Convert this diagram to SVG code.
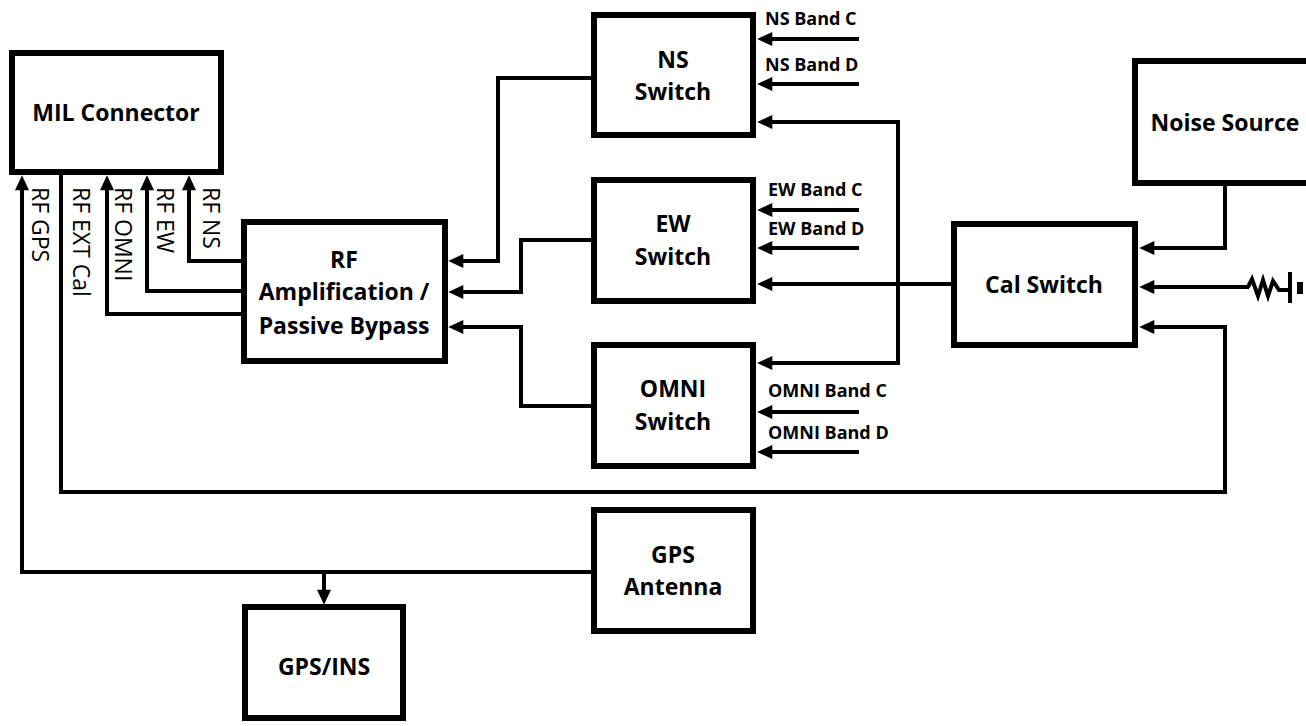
<svg xmlns="http://www.w3.org/2000/svg" width="1306" height="726" viewBox="0 0 1306 726">
<style>
.box{fill:#fff;stroke:#000;stroke-width:6}
.t{font-family:"Open Sans","Noto Sans",sans-serif;font-weight:bold;font-size:23px;text-anchor:middle;fill:#000}
.lbl{font-family:"Open Sans","Noto Sans",sans-serif;font-weight:bold;font-size:18px;fill:#000}
.vl{font-family:"Open Sans","Noto Sans",sans-serif;font-size:23px;fill:#000}
.c{fill:none;stroke:#000;stroke-width:4}
.a{marker-end:url(#arr)}
</style>
<defs>
<marker id="arr" markerUnits="userSpaceOnUse" markerWidth="16" markerHeight="14" viewBox="0 0 14 13" refX="4" refY="6.5" orient="auto-start-reverse">
<path d="M0,0 L14,6.5 L0,13 z" fill="#000"/>
</marker>
</defs>
<rect width="1306" height="726" fill="#fff"/>
<g id="connectors">
<path class="c a" d="M241,261 H189 V186"/>
<path class="c a" d="M241,291 H147 V186"/>
<path class="c a" d="M241,314 H107 V186"/>
<path class="c a" d="M61,175 V492 H1225 V327 H1150"/>
<path class="c a" d="M591,572 H22 V186"/>
<path class="c a" d="M324,572 V594"/>
<path class="c a" d="M591,78 H498 V261 H459"/>
<path class="c a" d="M591,240 H521 V292 H459"/>
<path class="c a" d="M591,406 H521 V327 H459"/>
<path class="c a" d="M859,39 H768"/>
<path class="c a" d="M859,84 H768"/>
<path class="c a" d="M859,210 H768"/>
<path class="c a" d="M859,248 H768"/>
<path class="c a" d="M859,412 H768"/>
<path class="c a" d="M859,452 H768"/>
<path class="c" d="M768,122 H898 V363 H768" marker-start="url(#arr)" marker-end="url(#arr)"/>
<path class="c a" d="M953,284 H768"/>
<path class="c a" d="M1225,186 V248 H1150"/>
<path class="c a" d="M1249,287 H1150"/>
<polyline class="c" stroke-width="4" stroke-linejoin="miter" points="1248,287 1252,279 1258,296 1263,280 1268,296 1273,281 1279,290 1289,290"/>
<line x1="1290" y1="272" x2="1290" y2="303" stroke="#000" stroke-width="4"/>
<rect x="1297" y="282" width="6" height="12" fill="#000"/>
</g>
<g id="mil">
<rect class="box" x="12" y="53" width="209" height="119"/>
<text class="t" x="116" y="121">MIL Connector</text>
</g>
<g id="labels-vertical">
<text class="vl" transform="translate(32,187) rotate(90)">RF GPS</text>
<text class="vl" transform="translate(73,187) rotate(90)">RF EXT Cal</text>
<text class="vl" transform="translate(115,187) rotate(90)">RF OMNI</text>
<text class="vl" transform="translate(157,187) rotate(90)">RF EW</text>
<text class="vl" transform="translate(203,187) rotate(90)">RF NS</text>
</g>
<g id="rfamp">
<rect class="box" x="244" y="222" width="201" height="139"/>
<text class="t" x="344" y="268">RF</text>
<text class="t" x="344" y="300">Amplification /</text>
<text class="t" x="344" y="334">Passive Bypass</text>
</g>
<g id="ns">
<rect class="box" x="594" y="15" width="159" height="120"/>
<text class="t" x="673" y="68">NS</text>
<text class="t" x="673" y="100">Switch</text>
</g>
<g id="ew">
<rect class="box" x="594" y="180" width="159" height="121"/>
<text class="t" x="673" y="232">EW</text>
<text class="t" x="673" y="265">Switch</text>
</g>
<g id="omni">
<rect class="box" x="594" y="345" width="159" height="121"/>
<text class="t" x="673" y="397">OMNI</text>
<text class="t" x="673" y="430">Switch</text>
</g>
<g id="band-labels">
<text class="lbl" x="765" y="25">NS Band C</text>
<text class="lbl" x="765" y="71">NS Band D</text>
<text class="lbl" x="768" y="196">EW Band C</text>
<text class="lbl" x="768" y="235">EW Band D</text>
<text class="lbl" x="768" y="397">OMNI Band C</text>
<text class="lbl" x="768" y="439">OMNI Band D</text>
</g>
<g id="gpsant">
<rect class="box" x="594" y="510" width="159" height="121"/>
<text class="t" x="673" y="563">GPS</text>
<text class="t" x="673" y="595">Antenna</text>
</g>
<g id="gpsins">
<rect class="box" x="245" y="607" width="158" height="111"/>
<text class="t" x="324" y="675">GPS/INS</text>
</g>
<g id="cal">
<rect class="box" x="954" y="224" width="181" height="121"/>
<text class="t" x="1044" y="293">Cal Switch</text>
</g>
<g id="noise">
<rect class="box" x="1135" y="61" width="200" height="122"/>
<text class="t" x="1225" y="131">Noise Source</text>
</g>
</svg>
